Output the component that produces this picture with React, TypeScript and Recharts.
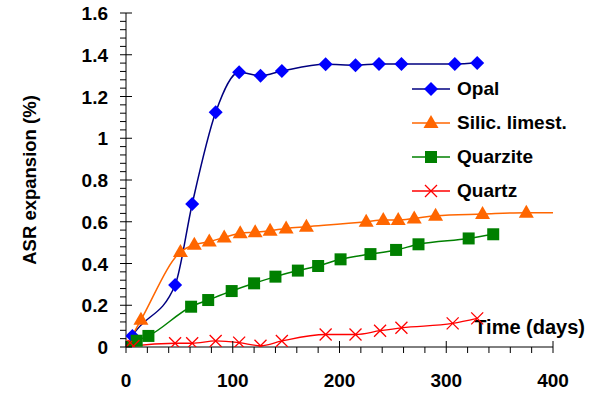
import React from "react"
import { LineChart, Line, XAxis, YAxis, Label } from "recharts"

// ─── Fonts / colors ──────────────────────────────────────────────────────────
const FONT = "'Liberation Sans', Arial, sans-serif"
const OPAL_LINE = "#000080"
const OPAL_MARK = "#0000ff"
const SILIC_COLOR = "#ff6600"
const QUARZITE_COLOR = "#008000"
const QUARTZ_COLOR = "#ff0000"

// ─── Data ────────────────────────────────────────────────────────────────────
const X_TICKS = [0, 100, 200, 300, 400]
const Y_TICKS = [0, 0.2, 0.4, 0.6, 0.8, 1, 1.2, 1.4, 1.6]
const Y_TICK_LABELS = ["0", "0.2", "0.4", "0.6", "0.8", "1", "1.2", "1.4", "1.6"]

const SERIES_NAMES = ["Opal", "Silic. limest.", "Quarzite", "Quartz"]

const OPAL_DAYS = [0, 6, 46, 62, 84, 106, 126, 146, 187, 215, 237, 258, 308, 329]
const OPAL_VALUES = [0, 0.053, 0.297, 0.685, 1.124, 1.316, 1.3, 1.322, 1.354, 1.35, 1.356, 1.356, 1.356, 1.36]

// last point only continues the line, it has no marker
const SILIC_DAYS = [0, 14, 51, 64, 78, 92, 107, 121, 135, 150, 169, 225, 241, 255, 270, 290, 334, 375, 408]
const SILIC_VALUES = [0, 0.13, 0.455, 0.49, 0.505, 0.525, 0.545, 0.55, 0.557, 0.568, 0.576, 0.6, 0.608, 0.608, 0.616, 0.629, 0.637, 0.643, 0.643]
const SILIC_MARKED = 18

const QUARZITE_DAYS = [0, 10, 21, 61, 77, 99, 120, 140, 161, 180, 201, 229, 253, 274, 321, 344]
const QUARZITE_VALUES = [0, 0.03, 0.053, 0.193, 0.225, 0.268, 0.305, 0.337, 0.366, 0.388, 0.42, 0.445, 0.465, 0.492, 0.52, 0.54]

const QUARTZ_DAYS = [0, 7, 46, 62, 84, 106, 126, 146, 187, 215, 238, 258, 306, 329]
const QUARTZ_VALUES = [0, 0.005, 0.018, 0.018, 0.029, 0.021, 0.006, 0.029, 0.06, 0.06, 0.078, 0.092, 0.113, 0.137]

const toRows = (days: number[], values: number[]) =>
  days.map((d, i) => ({ d, v: values[i] }))

const opalData = toRows(OPAL_DAYS, OPAL_VALUES)
const silicData = toRows(SILIC_DAYS, SILIC_VALUES)
const quarziteData = toRows(QUARZITE_DAYS, QUARZITE_VALUES)
const quartzData = toRows(QUARTZ_DAYS, QUARTZ_VALUES)

// minor ticks: 5 per major interval
const X_ALL_TICKS = Array.from({ length: 21 }, (_, i) => i * 20)
const Y_ALL_TICKS = Array.from({ length: 41 }, (_, i) => Math.round(i * 4) / 100)

// ─── Markers ─────────────────────────────────────────────────────────────────
function Diamond({ cx, cy }: { cx: number; cy: number }) {
  const r = 7
  return <path d={`M${cx},${cy - r}L${cx + r},${cy}L${cx},${cy + r}L${cx - r},${cy}Z`} fill={OPAL_MARK} />
}
function Triangle({ cx, cy }: { cx: number; cy: number }) {
  return <path d={`M${cx},${cy - 8}L${cx + 7.5},${cy + 5}L${cx - 7.5},${cy + 5}Z`} fill={SILIC_COLOR} />
}
function Square({ cx, cy }: { cx: number; cy: number }) {
  return <rect x={cx - 6} y={cy - 6} width={12} height={12} fill={QUARZITE_COLOR} />
}
function Cross({ cx, cy }: { cx: number; cy: number }) {
  const r = 6
  return (
    <path
      d={`M${cx - r},${cy - r}L${cx + r},${cy + r}M${cx - r},${cy + r}L${cx + r},${cy - r}`}
      stroke={QUARTZ_COLOR}
      strokeWidth={1.3}
      fill="none"
    />
  )
}

// ─── Ticks ───────────────────────────────────────────────────────────────────
function XTick(props: any) {
  const { x, y, payload } = props
  const major = X_TICKS.includes(payload.value)
  return (
    <g>
      <line x1={x} x2={x} y1={major ? y - 6 : y} y2={y + 6} stroke="#000" />
      {major && (
        <text x={x} y={y + 40} textAnchor="middle" fontFamily={FONT} fontWeight="bold" fontSize={19} fill="#000">
          {payload.value}
        </text>
      )}
    </g>
  )
}

function YTick(props: any) {
  const { x, y, payload } = props
  const idx = Y_TICKS.findIndex((t) => Math.abs(t - payload.value) < 1e-6)
  const major = idx >= 0
  return (
    <g>
      <line x1={x - 6} x2={major ? x + 6 : x} y1={y} y2={y} stroke="#000" />
      {major && (
        <text x={x - 18} y={y + 7} textAnchor="end" fontFamily={FONT} fontWeight="bold" fontSize={19} fill="#000">
          {Y_TICK_LABELS[idx]}
        </text>
      )}
    </g>
  )
}

// ─── Legend ──────────────────────────────────────────────────────────────────
const LEGEND_ITEMS = [
  { line: OPAL_LINE, Marker: Diamond },
  { line: SILIC_COLOR, Marker: Triangle },
  { line: QUARZITE_COLOR, Marker: Square },
  { line: QUARTZ_COLOR, Marker: Cross },
]

function ChartLegend() {
  return (
    <div style={{ position: "absolute", left: 410, top: 72 }}>
      {LEGEND_ITEMS.map(({ line, Marker }, i) => (
        <div key={i} style={{ display: "flex", alignItems: "center", height: 34 }}>
          <svg width={44} height={24}>
            <line x1={2} x2={40} y1={12} y2={12} stroke={line} strokeWidth={1.5} />
            <Marker cx={21} cy={12} />
          </svg>
          <span style={{ fontFamily: FONT, fontWeight: "bold", fontSize: 19, marginLeft: 3, color: "#000" }}>
            {SERIES_NAMES[i]}
          </span>
        </div>
      ))}
    </div>
  )
}

// ─── Chart ───────────────────────────────────────────────────────────────────
export default function App() {
  return (
    <div style={{ position: "absolute", left: 0, top: 0, width: 590, height: 395, background: "#fff" }}>
      <LineChart width={590} height={395} margin={{ top: 13, right: 37, left: 0, bottom: 0 }}>
        <XAxis
          dataKey="d"
          type="number"
          domain={[0, 400]}
          ticks={X_ALL_TICKS}
          interval={0}
          height={48}
          tickSize={0}
          tickMargin={0}
          tickLine={false}
          axisLine={{ stroke: "#000" }}
          tick={<XTick />}
          allowDataOverflow
        >
          <Label
            content={(p: any) => {
              const vb = p.viewBox
              return (
                <text x={vb.x + vb.width + 32} y={vb.y - 13} textAnchor="end" fontFamily={FONT} fontWeight="bold" fontSize={20} fill="#000">
                  Time (days)
                </text>
              )
            }}
          />
        </XAxis>
        <YAxis
          type="number"
          domain={[0, 1.6]}
          ticks={Y_ALL_TICKS}
          interval={0}
          width={126}
          tickSize={0}
          tickMargin={0}
          tickLine={false}
          axisLine={{ stroke: "#000" }}
          tick={<YTick />}
          allowDataOverflow
        >
          <Label
            content={(p: any) => {
              const vb = p.viewBox
              const cy = vb.y + vb.height / 2
              return (
                <text x={29} y={cy} transform={`rotate(-90, 29, ${cy})`} textAnchor="middle" dominantBaseline="central" fontFamily={FONT} fontWeight="bold" fontSize={18.5} fill="#000">
                  ASR expansion (%)
                </text>
              )
            }}
          />
        </YAxis>
        <Line
          data={opalData}
          dataKey="v"
          type="monotone"
          stroke={OPAL_LINE}
          strokeWidth={1.5}
          dot={(p: any) => <Diamond key={p.index} cx={p.cx} cy={p.cy} />}
          isAnimationActive={false}
        />
        <Line
          data={silicData}
          dataKey="v"
          type="monotone"
          stroke={SILIC_COLOR}
          strokeWidth={1.5}
          dot={(p: any) => (p.index < SILIC_MARKED ? <Triangle key={p.index} cx={p.cx} cy={p.cy} /> : <g key={p.index} />)}
          isAnimationActive={false}
        />
        <Line
          data={quarziteData}
          dataKey="v"
          type="monotone"
          stroke={QUARZITE_COLOR}
          strokeWidth={1.5}
          dot={(p: any) => <Square key={p.index} cx={p.cx} cy={p.cy} />}
          isAnimationActive={false}
        />
        <Line
          data={quartzData}
          dataKey="v"
          type="monotone"
          stroke={QUARTZ_COLOR}
          strokeWidth={1.3}
          dot={(p: any) => <Cross key={p.index} cx={p.cx} cy={p.cy} />}
          isAnimationActive={false}
        />
      </LineChart>
      <ChartLegend />
    </div>
  )
}
